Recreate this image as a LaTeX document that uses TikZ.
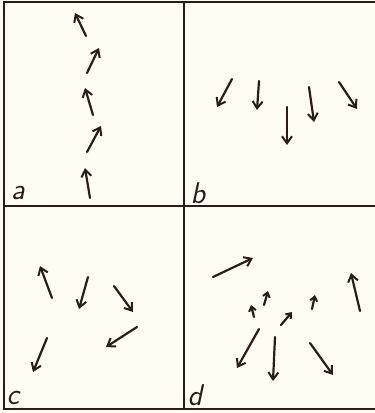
\documentclass[tikz,border=0pt]{standalone}
\usetikzlibrary{arrows.meta}
\definecolor{ink}{HTML}{2A1C1A}
\definecolor{paper}{HTML}{FFFDF3}
\begin{document}
\begin{tikzpicture}[x=1pt,y=-1pt,
  vec/.style={draw=ink,line width=2.2pt,line cap=round,-{Straight Barb[length=7pt,width=10pt,line width=2pt]}},
  svec/.style={draw=ink,line width=2.2pt,line cap=round,-{Straight Barb[length=4.5pt,width=7pt,line width=2pt]}},
  frame/.style={draw=ink,line width=1.4pt},
  lab/.style={text=ink,font=\sffamily\slshape\fontsize{30}{30}\selectfont,inner sep=0pt}]
\fill[paper] (0,0) rectangle (375,413);
\useasboundingbox (0,0) rectangle (375,413);
% frame
\coordinate (tl) at (4,2); \coordinate (tr) at (375,2);
\coordinate (bl) at (4,409); \coordinate (br) at (375,409);
\coordinate (vt) at (184,2); \coordinate (vb) at (184,409);
\coordinate (hl) at (4,206); \coordinate (hr) at (375,206);
\draw[frame] (tr) -- (tl) -- (bl) -- (br);
\draw[frame] (vt) -- (vb);
\draw[frame] (hl) -- (hr);
% labels
\node[lab] (la) at (18,193) {a};
\node[lab] (lb) at (198,193) {b};
\node[lab] (lc) at (13,398) {c};
\node[lab] (ld) at (195,395) {d};
% panel a
\coordinate (a1t) at (86,36);   \coordinate (a1h) at (75,13);
\coordinate (a2t) at (87,73);   \coordinate (a2h) at (99,48);
\coordinate (a3t) at (93,115);  \coordinate (a3h) at (85,88);
\coordinate (a4t) at (87,152);  \coordinate (a4h) at (101,126);
\coordinate (a5t) at (90,198);  \coordinate (a5h) at (85,168);
\foreach \i in {1,...,5} \draw[vec] (a\i t) -- (a\i h);
% panel b
\coordinate (b1t) at (232,79);  \coordinate (b1h) at (217,107);
\coordinate (b2t) at (259,81);  \coordinate (b2h) at (257,110);
\coordinate (b3t) at (287,107); \coordinate (b3h) at (287,145);
\coordinate (b4t) at (309,87);  \coordinate (b4h) at (314,122);
\coordinate (b5t) at (339,82);  \coordinate (b5h) at (357,109);
\foreach \i in {1,...,5} \draw[vec] (b\i t) -- (b\i h);
% panel c
\coordinate (c1t) at (52,298);  \coordinate (c1h) at (40,266);
\coordinate (c2t) at (88,277);  \coordinate (c2h) at (79,309);
\coordinate (c3t) at (114,286); \coordinate (c3h) at (133,312);
\coordinate (c4t) at (137,327); \coordinate (c4h) at (106,347);
\coordinate (c5t) at (47,338);  \coordinate (c5h) at (33,372);
\foreach \i in {1,...,5} \draw[vec] (c\i t) -- (c\i h);
% panel d
\coordinate (d1t) at (213,277); \coordinate (d1h) at (253,258);
\coordinate (d2t) at (254,317); \coordinate (d2h) at (251,305);
\coordinate (d3t) at (264,305); \coordinate (d3h) at (268,291);
\coordinate (d4t) at (281,325); \coordinate (d4h) at (292,312);
\coordinate (d5t) at (312,309); \coordinate (d5h) at (315,295);
\coordinate (d6t) at (360,311); \coordinate (d6h) at (351,273);
\coordinate (d7t) at (259,329); \coordinate (d7h) at (237,368);
\coordinate (d8t) at (275,337); \coordinate (d8h) at (273,381);
\coordinate (d9t) at (310,343); \coordinate (d9h) at (333,375);
\foreach \i in {1,6,7,8,9} \draw[vec] (d\i t) -- (d\i h);
\foreach \i in {2,3,4,5} \draw[svec] (d\i t) -- (d\i h);
\end{tikzpicture}
\end{document}
